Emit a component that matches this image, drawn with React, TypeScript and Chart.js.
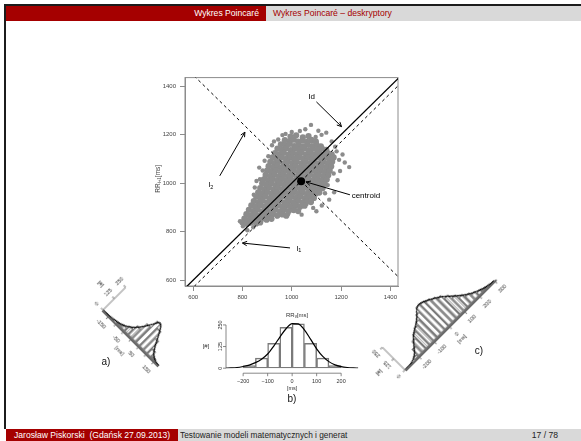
import React, { useEffect, useRef } from "react";
import { Chart, registerables } from "chart.js";

Chart.register(...registerables);

const FONT = "'Liberation Sans', Arial, Helvetica, sans-serif";

// ---------------- main Poincaré plot data ----------------
const mainXTicks = [600, 800, 1000, 1200, 1400];
const mainYTicks = [600, 800, 1000, 1200, 1400];
const mainXRange = [567, 1431];
const mainYRange = [576, 1435];
const centroidPoint = [1038, 1008];
const identityLine = [[500, 500], [1500, 1500]];
const parallelLine = [[500, 470], [1500, 1470]];
const perpendicularLine = [[500, 1546], [1546, 500]];

const cloudCore: number[][] = [
  [995,1192],[1018,1197],[1045,1189],[1068,1194],
  [972,1177],[990,1172],[1008,1179],[1026,1171],[1044,1176],[1062,1170],[1080,1178],[1098,1171],
  [956,1160],[974,1155],[992,1162],[1010,1153],[1028,1159],[1046,1152],[1064,1160],[1082,1153],[1100,1159],[1118,1152],
  [942,1142],[960,1137],[978,1144],[996,1136],[1014,1142],[1032,1137],[1050,1143],[1068,1136],[1086,1142],[1104,1137],[1122,1143],[1140,1137],
  [932,1124],[950,1119],[968,1125],[986,1118],[1004,1124],[1022,1119],[1040,1125],[1058,1118],[1076,1124],[1094,1119],[1112,1125],[1130,1118],[1148,1123],[1162,1119],
  [922,1106],[940,1101],[958,1107],[976,1100],[994,1106],[1012,1101],[1030,1107],[1048,1100],[1066,1106],[1084,1101],[1102,1107],[1120,1100],[1138,1106],[1156,1101],[1170,1106],
  [913,1088],[930,1083],[948,1089],[966,1082],[984,1088],[1002,1083],[1020,1089],[1038,1082],[1056,1088],[1074,1083],[1092,1089],[1110,1082],[1128,1088],[1146,1083],[1164,1088],
  [906,1070],[924,1065],[942,1071],[960,1064],[978,1070],[996,1065],[1014,1071],[1032,1064],[1050,1070],[1068,1065],[1086,1071],[1104,1064],[1122,1070],[1140,1065],[1160,1069],
  [900,1052],[918,1047],[936,1053],[954,1046],[972,1052],[990,1047],[1008,1053],[1026,1046],[1044,1052],[1062,1047],[1080,1053],[1098,1046],[1116,1052],[1134,1047],[1154,1051],
  [894,1034],[912,1029],[930,1035],[948,1028],[966,1034],[984,1029],[1002,1035],[1020,1028],[1038,1034],[1056,1029],[1074,1035],[1092,1028],[1110,1034],[1128,1029],[1148,1033],
  [887,1016],[905,1011],[923,1017],[941,1010],[959,1016],[977,1011],[995,1017],[1013,1010],[1031,1016],[1049,1011],[1067,1017],[1085,1010],[1103,1016],[1121,1011],[1142,1015],
  [880,998],[898,993],[916,999],[934,992],[952,998],[970,993],[988,999],[1006,992],[1024,998],[1042,993],[1060,999],[1078,992],[1096,998],[1114,993],[1134,997],
  [872,980],[890,975],[908,981],[926,974],[944,980],[962,975],[980,981],[998,974],[1016,980],[1034,975],[1052,981],[1070,974],[1088,980],[1106,975],[1125,979],
  [864,962],[882,957],[900,963],[918,956],[936,962],[954,957],[972,963],[990,956],[1008,962],[1026,957],[1044,963],[1062,956],[1080,962],[1098,957],[1112,961],
  [856,944],[874,939],[892,945],[910,938],[928,944],[946,939],[964,945],[982,938],[1000,944],[1018,939],[1036,945],[1054,938],[1072,944],[1090,939],
  [846,926],[864,921],[882,927],[900,920],[918,926],[936,921],[954,927],[972,920],[990,926],[1008,921],[1026,927],[1044,921],[1062,926],[1078,922],
  [836,908],[854,903],[872,909],[890,902],[908,908],[926,903],[944,909],[962,902],[980,908],[998,903],[1016,909],[1034,903],[1052,907],
  [826,890],[844,885],[862,891],[880,884],[898,890],[916,885],[934,891],[952,884],[970,890],[988,885],[1008,889],[1026,885],
  [816,872],[834,867],[852,873],[870,866],[888,872],[906,867],[924,873],[942,867],[962,871],[978,866],
  [808,854],[826,849],[844,855],[862,848],[880,854],[898,849],[918,853],
  [800,838],[818,833],[836,839],[856,834],[872,838],
];

const cloudOutliers: number[][] = [
  [1078,1240],[1033,1215],[1000,1211],[945,1180],[1121,1199],[1162,1172],[1182,1131],[1196,1050],
  [1233,1066],[1192,1096],[1186,1012],[1172,962],[1152,932],[1122,908],[1087,898],[1060,914],
  [1040,870],[1100,884],[905,1111],[871,1016],[857,1009],[882,1052],[890,1092],[920,1156],
  [962,1198],[790,843],[830,832],[844,818],[802,822],[820,806],[862,836],[940,862],[985,872],
  [1012,893],[1140,1208],[1206,1118],[1055,1222],[975,1203],[928,1172],[868,1064],[850,982],
  [846,952],[1146,992],[1170,1040],[1135,958],[1215,1085],[1176,1150],[1108,1216],[1097,1190],[1015,1196],
];

const arrowStarts = [[1100, 1335], [708, 1030], [1236, 952], [993, 733]];
const arrowEnds = [[1202, 1233], [810, 1210], [1058, 1005], [800, 753]];
const labelTexts = ["Id", "l", "centroid", "l"];
const labelSubs = ["", "2", "", "1"];
const labelXs = [1081, 672, 1243, 1029];
const labelYs = [1355, 992, 948, 730];
const labelAligns = ["center", "center", "left", "center"];

// ---------------- histogram b) ----------------
const bBinStart = -200;
const bBinWidth = 50;
const bCounts = [15, 58, 144, 236, 256, 144, 58, 15];
const bCurveX = [-270,-250,-225,-200,-175,-150,-125,-100,-75,-50,-25,0,25,50,75,100,125,150,175,200,225,250,270];
const bCurveY = [0.5,1.5,4,10,18,32,52,82,128,180,228,258,256,222,168,112,68,38,19,9,4,1.5,0.5];
const bXTicks = [-200, -100, 0, 100, 200];
const bXLabels = ["\u2212200", "\u2212100", "0", "100", "200"];
const histYTicks = [0, 125, 250];
const histYLabels = ["0", "125", "250"];

// ---------------- histogram a) ----------------
const aBinStart = -175;
const aBinWidth = 25;
const aCounts = [3, 6, 10, 18, 35, 62, 105, 170, 240, 200, 135, 60, 18, 5];
const aCurveX = [-190,-175,-150,-125,-100,-75,-50,-25,0,25,40,50,75,100,125,150,175,180];
const aCurveY = [0,2,4,8,14,26,48,82,135,205,242,238,175,95,35,10,2,1];
const aXTicks = [-150, -100, -50, 0, 50, 100, 150];
const aXLabels = ["-150", "", "-50", "", "50", "", "150"];

// ---------------- histogram c) ----------------
const cBinStart = -275;
const cBinWidth = 25;
const cCounts = [1,4,25,75,120,155,180,205,245,285,280,262,240,215,180,140,105,75,52,33,18,8,3];
const cCurveX = [-290,-250,-225,-200,-175,-150,-125,-100,-75,-50,-30,0,25,50,75,100,125,150,175,200,225,250,275,300];
const cCurveY = [0,3,15,45,95,140,170,195,228,272,285,272,252,228,200,162,125,92,65,43,26,13,5,1];
const cXTicks = [-200, -100, 0, 100, 200, 300];
const cXLabels = ["-200", "-100", "0", "100", "200", "300"];

// ---------------- helpers ----------------
type Part = { t: string; size: number; dy: number };

function drawParts(ctx: any, parts: Part[], x: number, y: number, align: string) {
  let total = 0;
  const widths = parts.map((p) => {
    ctx.font = `${p.size}px ${FONT}`;
    const w = ctx.measureText(p.t).width;
    total += w;
    return w;
  });
  let cx = align === "left" ? x : align === "right" ? x - total : x - total / 2;
  ctx.textAlign = "left";
  ctx.textBaseline = "middle";
  parts.forEach((p, i) => {
    ctx.font = `${p.size}px ${FONT}`;
    ctx.fillText(p.t, cx, y + p.dy);
    cx += widths[i];
  });
}

function drawArrow(ctx: any, x1: number, y1: number, x2: number, y2: number) {
  ctx.beginPath();
  ctx.moveTo(x1, y1);
  ctx.lineTo(x2, y2);
  ctx.stroke();
  const ang = Math.atan2(y2 - y1, x2 - x1);
  const L = 5;
  const A = Math.PI / 7;
  ctx.beginPath();
  ctx.moveTo(x2 - L * Math.cos(ang - A), y2 - L * Math.sin(ang - A));
  ctx.lineTo(x2, y2);
  ctx.lineTo(x2 - L * Math.cos(ang + A), y2 - L * Math.sin(ang + A));
  ctx.stroke();
}

const mainDecor = {
  id: "mainDecor",
  beforeDatasetsDraw(chart: any) {
    const { ctx, chartArea: a } = chart;
    ctx.save();
    ctx.strokeStyle = "#8c8c8c";
    ctx.lineWidth = 1;
    ctx.strokeRect(a.left, a.top, a.right - a.left, a.bottom - a.top);
    ctx.restore();
  },
  afterDatasetsDraw(chart: any) {
    const { ctx, scales } = chart;
    const xs = scales.x;
    const ys = scales.y;
    ctx.save();
    ctx.strokeStyle = "#000";
    ctx.lineWidth = 1;
    arrowStarts.forEach((s, i) => {
      const e = arrowEnds[i];
      drawArrow(ctx, xs.getPixelForValue(s[0]), ys.getPixelForValue(s[1]), xs.getPixelForValue(e[0]), ys.getPixelForValue(e[1]));
    });
    ctx.fillStyle = "#000";
    labelTexts.forEach((t, i) => {
      const parts: Part[] = [{ t, size: 8, dy: 0 }];
      if (labelSubs[i]) parts.push({ t: labelSubs[i], size: 5.5, dy: 2 });
      drawParts(ctx, parts, xs.getPixelForValue(labelXs[i]), ys.getPixelForValue(labelYs[i]), labelAligns[i]);
    });
    ctx.restore();
  },
  afterDraw(chart: any) {
    const { ctx, chartArea: a } = chart;
    ctx.save();
    ctx.fillStyle = "#444";
    ctx.translate(8.5, (a.top + a.bottom) / 2 - 3);
    ctx.rotate(-Math.PI / 2);
    drawParts(ctx, [
      { t: "RR", size: 6.5, dy: 0 },
      { t: "i+1", size: 4.5, dy: 1.5 },
      { t: "[ms]", size: 6.5, dy: 0 },
    ], 0, 0, "center");
    ctx.restore();
  },
};

function PoincarePlot() {
  const ref = useRef<HTMLCanvasElement>(null);
  useEffect(() => {
    const canvas = ref.current!;
    const toXY = (arr: number[][]) => arr.map(([x, y]) => ({ x, y }));
    const axisCommon = (ticksArr: number[], isX: boolean) => ({
      type: "linear",
      afterBuildTicks: (s: any) => {
        s.ticks = ticksArr.map((v) => ({ value: v }));
      },
      afterFit: (s: any) => {
        if (isX) s.height = 24;
        else s.width = 35;
      },
      grid: { display: true, drawOnChartArea: false, drawTicks: true, tickLength: 5, color: "#8c8c8c" },
      border: { display: true, color: "#8c8c8c" },
      ticks: {
        font: { family: FONT, size: 6 },
        color: "#444",
        padding: isX ? 3 : 4,
        maxRotation: 0,
        minRotation: 0,
        autoSkip: false,
        callback: (v: any) => String(v),
      },
    });
    const chart = new Chart(canvas, {
      type: "scatter",
      data: {
        datasets: [
          { data: [{ x: centroidPoint[0], y: centroidPoint[1] }], pointRadius: 4, pointBackgroundColor: "#000", pointBorderWidth: 0, order: 0 },
          { data: toXY(identityLine), showLine: true, borderColor: "#000", borderWidth: 1.3, pointRadius: 0, order: 1 },
          { data: toXY(parallelLine), showLine: true, borderColor: "#000", borderWidth: 1, borderDash: [3, 3], pointRadius: 0, order: 1 },
          { data: toXY(perpendicularLine), showLine: true, borderColor: "#000", borderWidth: 1, borderDash: [3, 3], pointRadius: 0, order: 1 },
          { data: toXY(cloudCore), pointRadius: 3.1, pointBackgroundColor: "#8c8c8c", pointBorderWidth: 0, order: 2 },
          { data: toXY(cloudOutliers), pointRadius: 2.2, pointBackgroundColor: "#8c8c8c", pointBorderWidth: 0, order: 2 },
        ],
      } as any,
      options: {
        responsive: false,
        maintainAspectRatio: false,
        animation: false,
        events: [],
        layout: { padding: { left: 0, top: 5, right: 12, bottom: 0 } },
        plugins: { legend: { display: false }, tooltip: { enabled: false } },
        scales: {
          x: { ...axisCommon(mainXTicks, true), min: mainXRange[0], max: mainXRange[1] },
          y: { ...axisCommon(mainYTicks, false), min: mainYRange[0], max: mainYRange[1] },
        },
      } as any,
      plugins: [mainDecor],
    });
    return () => chart.destroy();
  }, []);
  return (
    <canvas ref={ref} width={260} height={240} style={{ position: "absolute", left: 150, top: 70, width: 260, height: 240 }} />
  );
}

type HistCfg = {
  binStart: number; binWidth: number; counts: number[];
  curveX: number[]; curveY: number[];
  xMin: number; xMax: number; yMax: number;
  xTicks: number[]; xLabels: string[];
  yTicks: number[]; yLabels: string[];
  chartW: number; chartH: number;
  anchorX: number; anchorY: number; rotate: number;
  hatch: boolean; thickBase: boolean; xAxisGap: number;
  labelGap: number; unitGap: number; yLabelGap: number;
  title: boolean;
};

function makeHatch(ctx: any) {
  const c = document.createElement("canvas");
  c.width = 6;
  c.height = 6;
  const g = c.getContext("2d")!;
  g.strokeStyle = "#808080";
  g.lineWidth = 0.5;
  g.beginPath();
  g.moveTo(0.5, 0);
  g.lineTo(0.5, 6);
  g.stroke();
  return ctx.createPattern(c, "repeat");
}

function histAxes(cfg: HistCfg) {
  return {
    id: "histAxes",
    afterDraw(chart: any) {
      const { ctx, chartArea: a, scales } = chart;
      const xs = scales.x;
      const ys = scales.y;
      ctx.save();
      const by = a.bottom + cfg.xAxisGap;
      ctx.strokeStyle = "#6a6a6a";
      ctx.lineWidth = 0.8;
      ctx.beginPath();
      if (cfg.thickBase) {
        ctx.lineWidth = 1.8;
        ctx.moveTo(a.left, by);
        ctx.lineTo(a.right, by);
      } else {
        ctx.moveTo(xs.getPixelForValue(cfg.xTicks[0]), by);
        ctx.lineTo(xs.getPixelForValue(cfg.xTicks[cfg.xTicks.length - 1]), by);
      }
      ctx.stroke();
      ctx.lineWidth = 0.8;
      ctx.fillStyle = "#333";
      cfg.xTicks.forEach((v, i) => {
        const px = xs.getPixelForValue(v);
        ctx.beginPath();
        ctx.moveTo(px, by);
        ctx.lineTo(px, by + 3);
        ctx.stroke();
        if (cfg.xLabels[i]) {
          ctx.font = `5.5px ${FONT}`;
          ctx.textAlign = "center";
          ctx.textBaseline = "middle";
          ctx.fillText(cfg.xLabels[i], px, by + cfg.labelGap);
        }
      });
      ctx.font = `5.5px ${FONT}`;
      ctx.textAlign = "center";
      ctx.textBaseline = "middle";
      ctx.fillText("[ms]", xs.getPixelForValue(0), by + cfg.unitGap);
      // y axis
      const lx = a.left;
      ctx.beginPath();
      ctx.moveTo(lx, ys.getPixelForValue(cfg.yTicks[0]));
      ctx.lineTo(lx, ys.getPixelForValue(cfg.yTicks[cfg.yTicks.length - 1]));
      ctx.stroke();
      cfg.yTicks.forEach((v, i) => {
        const py = ys.getPixelForValue(v);
        ctx.beginPath();
        ctx.moveTo(lx, py);
        ctx.lineTo(lx - 3, py);
        ctx.stroke();
        ctx.save();
        ctx.translate(lx - cfg.yLabelGap, py);
        ctx.rotate(-Math.PI / 2);
        ctx.font = `5.5px ${FONT}`;
        ctx.textAlign = "center";
        ctx.textBaseline = "middle";
        ctx.fillText(cfg.yLabels[i], 0, 0);
        ctx.restore();
      });
      ctx.font = `6px ${FONT}`;
      ctx.textAlign = "center";
      ctx.textBaseline = "middle";
      ctx.fillText("[#]", lx - 20, ys.getPixelForValue(128));
      if (cfg.title) {
        drawParts(ctx, [
          { t: "RR", size: 6, dy: 0 },
          { t: "v", size: 4.5, dy: 1.5 },
          { t: "[ms]", size: 6, dy: 0 },
        ], xs.getPixelForValue(0) + 5, a.top - 3, "center");
      }
      ctx.restore();
    },
  };
}

function HistPanel({ cfg }: { cfg: HistCfg }) {
  const ref = useRef<HTMLCanvasElement>(null);
  const padL = 34;
  const padR = 8;
  const padT = 16;
  const padB = 30;
  const W = Math.ceil(cfg.chartW + padL + padR);
  const H = Math.ceil(cfg.chartH + padT + padB);
  useEffect(() => {
    const canvas = ref.current!;
    const ctx = canvas.getContext("2d");
    const fill = cfg.hatch ? makeHatch(ctx) : "rgba(0,0,0,0)";
    const chart = new Chart(canvas, {
      type: "bar",
      data: {
        datasets: [
          {
            type: "line",
            data: cfg.curveX.map((x, i) => ({ x, y: cfg.curveY[i] })),
            borderColor: "#000",
            borderWidth: 1.2,
            pointRadius: 0,
            cubicInterpolationMode: "monotone",
            fill: false,
            order: 0,
          },
          {
            type: "bar",
            data: cfg.counts.map((c, i) => ({ x: cfg.binStart + cfg.binWidth * (i + 0.5), y: c })),
            backgroundColor: fill,
            borderColor: "#7a7a7a",
            borderWidth: 0.8,
            borderSkipped: false,
            barPercentage: 1,
            categoryPercentage: 1,
            order: 1,
          },
        ],
      } as any,
      options: {
        responsive: false,
        maintainAspectRatio: false,
        animation: false,
        events: [],
        layout: { padding: { left: padL, top: padT, right: W - padL - cfg.chartW, bottom: H - padT - cfg.chartH } },
        plugins: { legend: { display: false }, tooltip: { enabled: false } },
        scales: {
          x: { type: "linear", min: cfg.xMin, max: cfg.xMax, display: false, offset: false },
          y: { type: "linear", min: 0, max: cfg.yMax, display: false },
        },
      } as any,
      plugins: [histAxes(cfg)],
    });
    return () => chart.destroy();
  }, []);
  return (
    <canvas
      ref={ref}
      width={W}
      height={H}
      style={{
        position: "absolute",
        left: cfg.anchorX - padL,
        top: cfg.anchorY - padT - cfg.chartH,
        width: W,
        height: H,
        transformOrigin: `${padL}px ${padT + cfg.chartH}px`,
        transform: `rotate(${cfg.rotate}deg)`,
      }}
    />
  );
}

const histB: HistCfg = {
  binStart: bBinStart, binWidth: bBinWidth, counts: bCounts,
  curveX: bCurveX, curveY: bCurveY,
  xMin: -270, xMax: 270, yMax: 290,
  xTicks: bXTicks, xLabels: bXLabels, yTicks: histYTicks, yLabels: histYLabels,
  chartW: 132.3, chartH: 50.2, anchorX: 225.5, anchorY: 368.3, rotate: 0,
  hatch: false, thickBase: false, xAxisGap: 5, labelGap: 8, unitGap: 15, yLabelGap: 6,
  title: true,
};

const histA: HistCfg = {
  binStart: aBinStart, binWidth: aBinWidth, counts: aCounts,
  curveX: aCurveX, curveY: aCurveY,
  xMin: -190, xMax: 180, yMax: 312,
  xTicks: aXTicks, xLabels: aXLabels, yTicks: histYTicks, yLabels: histYLabels,
  chartW: 79, chartH: 40, anchorX: 103.3, anchorY: 310, rotate: 45,
  hatch: true, thickBase: true, xAxisGap: 1, labelGap: 10, unitGap: 16, yLabelGap: 9,
  title: false,
};

const histC: HistCfg = {
  binStart: cBinStart, binWidth: cBinWidth, counts: cCounts,
  curveX: cCurveX, curveY: cCurveY,
  xMin: -290, xMax: 310, yMax: 312,
  xTicks: cXTicks, xLabels: cXLabels, yTicks: histYTicks, yLabels: histYLabels,
  chartW: 128.4, chartH: 40, anchorX: 405, anchorY: 370, rotate: -45,
  hatch: true, thickBase: true, xAxisGap: 1, labelGap: 10, unitGap: 17, yLabelGap: 9,
  title: false,
};

const RED = "#a50000";
const GRAY = "#d9d9d9";
const textBase: any = { position: "absolute", fontFamily: FONT, whiteSpace: "nowrap" };

export default function App() {
  return (
    <div style={{ position: "absolute", left: 0, top: 0, width: 581, height: 441, overflow: "hidden", background: "#fff" }}>
      {/* frame */}
      <div style={{ position: "absolute", left: 4, top: 4, width: 577, height: 2, background: "#1c1c1c" }} />
      <div style={{ position: "absolute", left: 4, top: 4, width: 1.5, height: 425, background: "#1c1c1c" }} />
      {/* header */}
      <div style={{ position: "absolute", left: 5.5, top: 6, width: 260.2, height: 15, background: RED }} />
      <div style={{ position: "absolute", left: 265.7, top: 6, width: 316, height: 15, background: GRAY }} />
      <div style={{ ...textBase, left: 100, top: 6, width: 159, height: 15, lineHeight: "15px", textAlign: "right", color: "#fff", fontSize: 8.6 }}>
        Wykres Poincaré
      </div>
      <div style={{ ...textBase, left: 273, top: 6, height: 15, lineHeight: "15px", color: RED, fontSize: 8.6 }}>
        Wykres Poincaré – deskryptory
      </div>
      {/* footer */}
      <div style={{ position: "absolute", left: 5.5, top: 429, width: 172.8, height: 12, background: RED }} />
      <div style={{ position: "absolute", left: 178.3, top: 429, width: 403, height: 12, background: GRAY }} />
      <div style={{ ...textBase, left: 14, top: 429, height: 12, lineHeight: "12px", color: "#fff", fontSize: 8.6 }}>
        Jarosław Piskorski&nbsp; (Gdańsk 27.09.2013)
      </div>
      <div style={{ ...textBase, left: 180, top: 429, width: 168, overflow: "hidden", height: 12, lineHeight: "12px", color: "#222", fontSize: 8.3 }}>
        Testowanie modeli matematycznych i generat
      </div>
      <div style={{ ...textBase, left: 480, top: 429, width: 78, height: 12, lineHeight: "12px", textAlign: "right", color: "#222", fontSize: 8.6 }}>
        17 / 78
      </div>

      <PoincarePlot />
      <HistPanel cfg={histA} />
      <HistPanel cfg={histB} />
      <HistPanel cfg={histC} />

      <div style={{ ...textBase, left: 106, top: 361, transform: "translate(-50%,-50%)", fontSize: 10, color: "#111" }}>a)</div>
      <div style={{ ...textBase, left: 292, top: 398, transform: "translate(-50%,-50%)", fontSize: 10, color: "#111" }}>b)</div>
      <div style={{ ...textBase, left: 479, top: 350, transform: "translate(-50%,-50%)", fontSize: 10, color: "#111" }}>c)</div>
    </div>
  );
}
